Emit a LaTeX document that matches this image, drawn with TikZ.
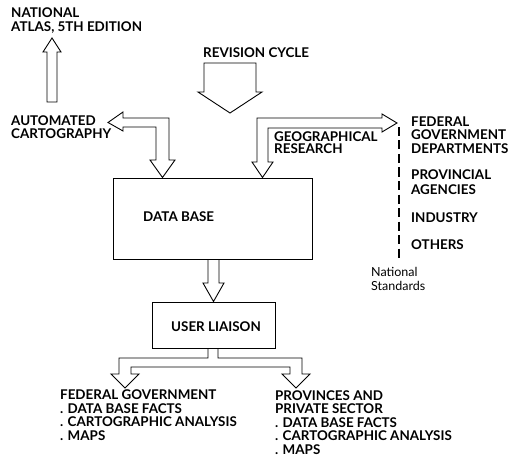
\documentclass[tikz,border=0pt]{standalone}
\usepackage{fontspec}
\setmainfont{Lato}
\begin{document}
\begin{tikzpicture}[x=1pt,y=-1pt,
  lbl/.style={anchor=base west,inner sep=0pt,align=left,font=\fontsize{13.4}{13.6}\selectfont\bfseries},
  lbltight/.style={lbl,font=\fontsize{13.4}{12.6}\selectfont\bfseries},
  lblwide/.style={lbl,font=\fontsize{13.4}{15}\selectfont\bfseries},
  small/.style={anchor=base west,inner sep=0pt,align=left,font=\fontsize{12.5}{14}\selectfont},
  boxx/.style={draw,line width=0.9pt,inner sep=0pt},
  blk/.style={draw,line width=0.9pt,line join=miter},
  dashline/.style={line width=1.7pt,dash pattern=on 9pt off 4.5pt}]
\useasboundingbox (0,0) rectangle (508,457);

% boxes
\node[boxx,minimum width=199pt,minimum height=81pt] (db) at (212.5,218.5) {};
\node[boxx,minimum width=123pt,minimum height=46pt] (ul) at (213.5,325) {};
\node[lbl] (dbt) at (143,221.5) {DATA BASE};
\node[lbl] (ult) at (171,331.5) {USER LIAISON};

% labels (anchor = baseline of last line)
\node[lbl] (atlas) at (11,31.5) {NATIONAL\\ATLAS, 5TH EDITION};
\node[lbl] (auto) at (11,139) {AUTOMATED\\CARTOGRAPHY};
\node[lbl] (rev) at (203,57.5) {REVISION CYCLE};
\node[lbltight] (geo) at (274,153.8) {GEOGRAPHICAL\\RESEARCH};
\node[lbl] (fed) at (411,153.5) {FEDERAL\\GOVERNMENT\\DEPARTMENTS};
\node[lblwide] (prov) at (411,194.5) {PROVINCIAL\\AGENCIES};
\node[lbl] (ind) at (411,222.5) {INDUSTRY};
\node[lbl] (oth) at (411,249.5) {OTHERS};
\node[small] (nat) at (371,290) {National\\Standards};
\node[lbl] (fg) at (60,440.5) {FEDERAL GOVERNMENT\\. DATA BASE FACTS\\. CARTOGRAPHIC ANALYSIS\\. MAPS};
\node[lbl] (pp) at (275,454.5) {PROVINCES AND\\PRIVATE SECTOR\\. DATA BASE FACTS\\. CARTOGRAPHIC ANALYSIS\\. MAPS};

% block arrows
% up arrow to national atlas
\draw[blk] (47,102) -- (47,52) -- (43,52) -- (52,38) -- (61,52) -- (57,52) -- (57,102) -- cycle;
% revision cycle
\draw[blk] (204,63) -- (256,63) -- (256,92) -- (262,92) -- (230,113) -- (198,92) -- (204,92) -- cycle;
% automated cartography <-> data base
\draw[blk] (169,160) -- (169,118) -- (123,118) -- (123,112) -- (108,122.5) -- (123,131) -- (123,127)
  -- (156,127) -- (156,160) -- (150,160) -- (162.5,177.5) -- (175,160) -- cycle;
% geographical research / federal departments <-> data base
\draw[blk] (257,162) -- (257,118) -- (382,118) -- (382,114) -- (397,123) -- (382,132) -- (382,128)
  -- (268,128) -- (268,162) -- (273,162) -- (262.5,177.5) -- (252,162) -- cycle;
% data base -> user liaison
\draw[blk] (208,259) -- (208,283) -- (203,283) -- (213.5,301.5) -- (224,283) -- (219,283) -- (219,259);
% user liaison -> two branches
\draw[blk] (208,348) -- (208,358) -- (119,358) -- (119,374) -- (111,374) -- (125,388) -- (139,374)
  -- (131,374) -- (131,367) -- (290,367) -- (290,374) -- (282,374) -- (296,388) -- (310,374)
  -- (302,374) -- (302,358) -- (218,358) -- (218,348);

% dashed separator
\coordinate (dtop) at (399,127);
\coordinate (dbot) at (399,258);
\draw[dashline] (dtop) -- (dbot);
\end{tikzpicture}
\end{document}
